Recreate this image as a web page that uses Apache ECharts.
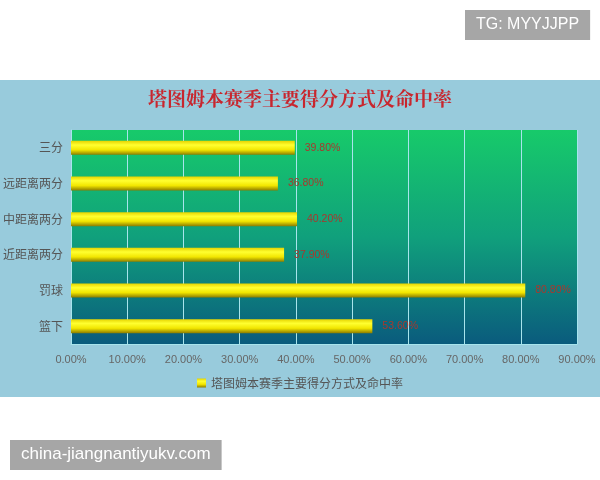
<!DOCTYPE html>
<html><head><meta charset="utf-8">
<script src="https://cdn.jsdelivr.net/npm/echarts@6/dist/echarts.min.js"></script>
<style>html,body{margin:0;padding:0;background:#fff}#c{width:600px;height:480px}</style>
</head><body><div id="c"></div>
<script>
const categories = ['三分', '远距离两分', '中距离两分', '近距离两分', '罚球', '篮下'];
const values = [39.8, 36.8, 40.2, 37.9, 80.8, 53.6];
const seriesName = '塔图姆本赛季主要得分方式及命中率';
const titleText = '塔图姆本赛季主要得分方式及命中率';

const chart = echarts.init(document.getElementById('c'));
chart.setOption({
  backgroundColor: '#fff',
  animation: false,
  graphic: [
    { type: 'rect', z: -10, shape: { x: 0, y: 80, width: 600, height: 317 }, style: { fill: '#98cbdc' } },
    { type: 'text', left: 465, top: 10, z: 100, style: { text: 'TG: MYYJJPP', fill: '#fff', font: '16px "Liberation Sans", Arial', backgroundColor: '#a6a6a6', padding: [7, 11, 7, 11] } },
    { type: 'text', left: 10, top: 440, z: 100, style: { text: 'china-jiangnantiyukv.com', fill: '#fff', font: '17px "Liberation Sans", Arial', backgroundColor: '#a6a6a6', padding: [6, 11, 7, 11] } }
  ],
  title: {
    text: titleText, left: 'center', top: 84,
    textStyle: { color: '#c8262e', fontSize: 19, fontWeight: 'bold', fontFamily: '"Noto Serif CJK SC", "Noto Sans CJK SC", serif' }
  },
  legend: {
    data: [seriesName], bottom: 86, left: 'center', itemWidth: 9, itemHeight: 9, itemGap: 4,
    icon: 'rect',
    textStyle: { color: '#555', fontSize: 12, fontFamily: '"Noto Sans CJK SC"' }
  },
  grid: {
    left: 70, right: 23, top: 130, bottom: 136, show: true, borderWidth: 0,
    backgroundColor: new echarts.graphic.LinearGradient(0, 0, 0, 1, [
      { offset: 0, color: '#17ca6a' }, { offset: 0.5, color: '#10a07c' }, { offset: 1, color: '#0a5b7d' }
    ])
  },
  xAxis: {
    type: 'value', min: 0, max: 90, interval: 10,
    axisLine: { show: true, lineStyle: { color: '#a8e4ec' } },
    axisTick: { show: false },
    splitLine: { show: true, lineStyle: { color: '#a8e4ec', width: 1 } },
    axisLabel: { color: '#666', fontSize: 11, margin: 10, fontFamily: '"Liberation Sans", Arial', formatter: v => v.toFixed(2) + '%' }
  },
  yAxis: {
    type: 'category', data: categories, inverse: true,
    axisLine: { show: true, lineStyle: { color: '#a8e4ec' } },
    axisTick: { show: false },
    axisLabel: { color: '#555', fontSize: 12, margin: 8, fontFamily: '"Noto Sans CJK SC"' }
  },
  series: [{
    name: seriesName, type: 'bar', data: values, barWidth: 14,
    itemStyle: {
      color: new echarts.graphic.LinearGradient(0, 0, 0, 1, [
        { offset: 0, color: '#e6d400' }, { offset: 0.3, color: '#ffff30' }, { offset: 0.65, color: '#f2e600' }, { offset: 1, color: '#8c7c00' }
      ])
    },
    label: {
      show: true, position: 'right', distance: 10, color: '#a8382e', fontSize: 10.5,
      fontFamily: '"Liberation Sans", Arial', formatter: p => p.value.toFixed(2) + '%'
    }
  }]
});
</script></body></html>
